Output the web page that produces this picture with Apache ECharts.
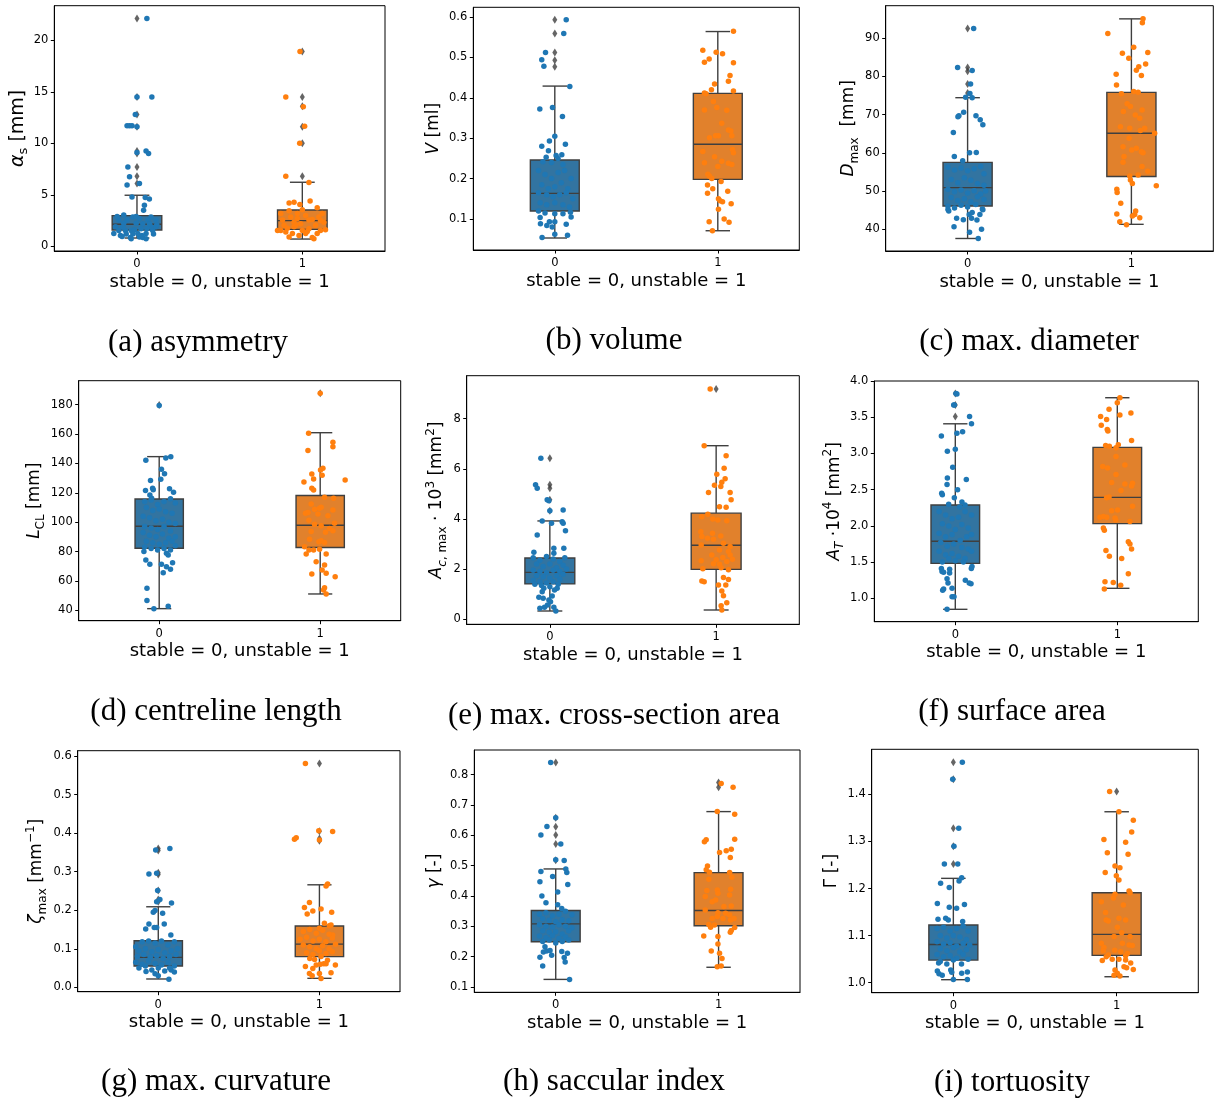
<!DOCTYPE html>
<html>
<head>
<meta charset="utf-8">
<title>Morphological parameters: stable vs unstable</title>
<script src="https://cdn.jsdelivr.net/npm/echarts@6/dist/echarts.min.js"></script>
<style>
  html, body { margin: 0; padding: 0; background: #fff; }
  #chart { width: 1218px; height: 1101px; }
</style>
</head>
<body>
<div id="chart"></div>
<script>
// ---- data: [jitter, value] for the strip points, box = [low whisker, Q1, median, Q3, high whisker]
const groups = ['0', '1'];

// (a) asymmetry
const asymmetryTicks = [0, 5, 10, 15, 20];
const asymmetryBoxes = [[0.81, 1.59, 2.14, 2.98, 4.96], [0.71, 1.65, 2.5, 3.53, 6.22]];
const asymmetryOutliers = [[22.1, 14.5, 12.8, 11.6, 9.25, 9.0, 7.7, 6.8, 6.1], [18.9, 14.5, 13.6, 11.6, 10.0, 6.8]];
const asymmetryStable = [[0.06,22.1],[0.09,14.5],[0.0,14.5],[-0.01,12.8],[-0.06,11.7],[-0.045,11.7],[-0.03,11.7],[0.0,11.6],[0.055,9.25],[0.07,9.0],[0.0,9.1],[-0.055,7.7],[-0.045,6.75],[-0.06,5.95],[0.015,6.1],[-0.03,4.8],[0.05,4.75],[0.075,4.6],[0.045,4.0],[0.04,3.5],[-0.14,1.25],[-0.08,3.05],[-0.1,1.05],[-0.04,0.85],[-0.035,1.55],[0.015,0.9],[0.035,0.85],[0.055,1.25],[0.085,1.9],[0.095,1.55],[-0.08,2.25],[-0.06,2.55],[-0.025,2.85],[-0.005,2.25],[0.015,2.7],[0.035,2.2],[0.065,2.55],[-0.13,1.9],[-0.11,1.55],[0.115,2.55],[0.085,2.85],[-0.07,1.55],[-0.015,1.6],[0.005,1.25],[0.025,1.7],[-0.035,0.75],[0.055,0.75],[-0.11,2.55],[0.075,2.2],[0.115,1.9],[-0.085,1.85],[-0.005,2.9],[-0.065,1.2],[-0.025,1.2],[0.12,2.1],[-0.12,2.9],[0.1,1.2],[-0.09,0.95],[0.03,1.05],[0.06,1.7]];
const asymmetryUnstable = [[-0.014,18.9],[-0.1,14.5],[0.006,13.55],[0.014,11.65],[-0.016,10.0],[-0.1,6.8],[0.04,6.2],[0.047,4.4],[-0.08,4.2],[-0.05,4.28],[-0.015,4.05],[-0.13,3.2],[-0.08,3.45],[0.0,3.55],[0.09,3.75],[0.12,3.2],[-0.12,2.55],[-0.07,2.85],[-0.03,2.7],[0.02,3.0],[0.06,2.6],[0.1,2.85],[0.13,2.35],[-0.13,1.55],[-0.1,1.4],[-0.05,1.9],[-0.01,2.2],[0.04,1.7],[0.08,2.05],[0.11,1.55],[-0.11,2.05],[-0.06,1.25],[-0.02,1.05],[0.02,1.25],[0.06,0.85],[0.07,0.75],[0.09,1.25],[-0.08,0.9],[0.0,1.55],[0.04,2.55],[-0.05,2.35],[-0.03,3.2],[-0.15,1.55],[0.14,1.6],[-0.09,1.75],[0.03,1.45],[0.11,2.5],[-0.04,2.05]];

// (b) volume
const volumeTicks = [0.1, 0.2, 0.3, 0.4, 0.5, 0.6];
const volumeBoxes = [[0.053, 0.12, 0.1635, 0.246, 0.429], [0.071, 0.198, 0.285, 0.411, 0.564]];
const volumeOutliers = [[0.593, 0.559, 0.512, 0.493, 0.477], []];
const volumeStable = [[0.07,0.593],[0.055,0.559],[-0.057,0.512],[-0.08,0.494],[-0.067,0.478],[0.092,0.428],[-0.092,0.372],[-0.014,0.376],[0.047,0.354],[0.0,0.305],[-0.033,0.293],[0.065,0.285],[-0.08,0.28],[-0.039,0.269],[0.043,0.259],[-0.053,0.253],[0.008,0.257],[-0.073,0.242],[-0.1,0.22],[-0.06,0.21],[-0.02,0.2],[0.02,0.215],[0.06,0.22],[0.1,0.2],[-0.08,0.185],[-0.04,0.175],[0.0,0.18],[0.04,0.19],[0.08,0.175],[-0.1,0.165],[-0.05,0.16],[-0.01,0.155],[0.03,0.16],[0.07,0.165],[0.11,0.15],[-0.09,0.14],[-0.05,0.135],[0.0,0.14],[0.05,0.135],[0.09,0.13],[-0.1,0.12],[-0.06,0.115],[0.0,0.113],[0.05,0.113],[0.096,0.117],[-0.09,0.104],[-0.088,0.088],[-0.049,0.084],[-0.016,0.08],[-0.033,0.093],[0.0,0.093],[0.07,0.087],[0.1,0.105],[-0.078,0.054],[0.0,0.062],[0.078,0.06],[0.05,0.235],[-0.02,0.24],[0.02,0.25]];
const volumeUnstable = [[0.096,0.565],[-0.092,0.518],[-0.01,0.513],[0.029,0.509],[-0.082,0.488],[-0.053,0.496],[0.096,0.487],[0.075,0.455],[0.065,0.441],[-0.02,0.434],[-0.039,0.42],[-0.082,0.412],[-0.072,0.41],[0.096,0.417],[-0.027,0.391],[-0.006,0.376],[-0.082,0.37],[0.055,0.369],[0.024,0.337],[0.065,0.32],[0.08,0.318],[0.086,0.306],[-0.051,0.301],[-0.014,0.306],[0.004,0.306],[0.09,0.272],[-0.092,0.267],[0.096,0.264],[-0.02,0.254],[-0.082,0.239],[0.024,0.243],[0.065,0.238],[0.086,0.235],[0.0,0.23],[-0.061,0.211],[-0.051,0.206],[-0.037,0.2],[0.02,0.193],[-0.063,0.184],[-0.031,0.175],[-0.063,0.164],[0.061,0.169],[0.004,0.15],[0.014,0.145],[0.029,0.143],[0.082,0.138],[0.004,0.124],[0.039,0.1],[-0.053,0.093],[0.069,0.092],[-0.033,0.071]];

// (c) max. diameter
const diameterTicks = [40, 50, 60, 70, 80, 90];
const diameterBoxes = [[37.6, 46.1, 50.9, 57.5, 74.4], [41.3, 53.8, 65.1, 75.8, 95.0]];
const diameterOutliers = [[92.5, 82.3, 81.3, 78.0, 75.6], []];
const diameterStable = [[0.037,92.5],[-0.061,82.3],[0.028,81.5],[0.018,78.0],[0.014,75.5],[-0.012,74.5],[0.028,74.4],[-0.053,69.7],[-0.059,69.4],[-0.024,70.6],[0.051,69.7],[0.077,68.6],[0.093,67.3],[-0.087,65.3],[0.012,60.0],[0.053,60.1],[-0.081,59.0],[-0.03,57.9],[-0.12,56.2],[-0.08,55.5],[-0.04,56.0],[0.0,55.3],[0.04,55.8],[0.08,56.4],[0.1,54.5],[-0.1,53.0],[-0.06,52.2],[-0.02,53.5],[0.02,52.8],[0.06,52.0],[0.1,51.5],[-0.12,50.5],[-0.08,49.8],[-0.04,50.3],[0.0,49.5],[0.04,50.1],[0.08,49.2],[0.11,50.0],[-0.1,48.3],[-0.06,47.5],[-0.02,48.0],[0.02,47.2],[0.06,48.5],[0.1,47.8],[-0.12,46.0],[-0.08,45.6],[-0.04,46.3],[0.0,45.8],[0.05,46.5],[0.09,45.3],[-0.12,45.2],[-0.115,44.8],[-0.067,42.9],[-0.083,40.7],[-0.026,42.5],[0.01,43.9],[0.028,44.4],[0.057,42.4],[0.075,43.9],[0.093,45.1],[0.085,40.0],[0.012,39.2],[0.065,37.6],[0.024,42.9]];
const diameterUnstable = [[0.071,95.0],[0.067,94.0],[-0.144,91.2],[-0.055,86.0],[0.1,86.2],[0.014,87.6],[-0.016,84.7],[0.087,83.2],[0.045,82.5],[0.03,81.6],[0.061,80.2],[-0.093,80.5],[-0.091,77.7],[-0.061,75.4],[0.014,76.0],[0.041,75.8],[-0.026,72.8],[-0.006,72.1],[-0.049,70.8],[0.065,71.2],[0.024,69.9],[0.051,69.0],[0.081,66.4],[-0.067,66.8],[-0.01,66.4],[0.055,65.8],[0.142,65.1],[-0.014,63.8],[-0.051,61.6],[0.002,60.7],[0.03,61.2],[0.061,60.3],[0.071,60.0],[-0.045,59.0],[-0.051,57.5],[0.1,55.2],[0.065,56.4],[-0.01,53.9],[0.041,54.2],[-0.006,52.9],[0.006,52.0],[0.152,51.4],[-0.089,50.5],[-0.087,49.6],[-0.065,46.8],[-0.089,44.0],[0.026,44.8],[0.02,43.9],[0.006,43.5],[0.051,43.0],[-0.071,42.0],[-0.03,41.2]];

// (d) centreline length
const lengthTicks = [40, 60, 80, 100, 120, 140, 160, 180];
const lengthBoxes = [[41.1, 82.2, 97.2, 115.8, 144.6], [51.1, 82.7, 97.9, 118.1, 160.9]];
const lengthOutliers = [[179.8], [187.7]];
const lengthStable = [[0.0,179.5],[-0.083,142.1],[0.041,143.7],[0.072,144.6],[0.014,136],[0.033,133],[-0.054,128.3],[0.01,129.2],[-0.041,123.1],[-0.037,122],[-0.085,121.5],[0.064,122.8],[0.089,120.3],[-0.058,118.5],[-0.047,116.2],[-0.09,114],[-0.05,115],[-0.01,112],[0.03,114],[0.07,116],[0.1,113],[-0.08,110],[-0.04,108],[0.0,109],[0.04,107],[0.08,106],[-0.1,104],[-0.06,103],[-0.02,101],[0.02,102],[0.06,100],[0.1,99],[-0.09,97],[-0.05,96],[-0.01,95],[0.03,97],[0.07,94],[-0.1,93],[-0.06,91],[-0.02,90],[0.02,92],[0.06,89],[0.1,90],[-0.08,87],[-0.04,86],[0.0,85],[0.04,86],[0.08,87],[-0.09,83],[-0.05,82],[-0.01,81],[0.03,82],[0.07,81],[0.1,84],[-0.095,80],[-0.083,74.3],[-0.058,71.3],[0.014,71.3],[0.045,78.8],[0.056,77.7],[0.083,72.4],[0.045,69.7],[0.07,67.9],[0.025,65.6],[-0.076,55],[-0.076,46.6],[-0.033,41.1],[0.056,42.7]];
const lengthUnstable = [[0.0,187.7],[-0.072,160.5],[-0.076,148.7],[0.079,154.4],[0.079,151.4],[-0.052,132.8],[-0.041,129.4],[-0.101,127.4],[0.012,132],[0.017,136.7],[0.002,135.5],[0.155,128.7],[-0.052,123],[-0.041,121.9],[0.027,117],[0.083,116.2],[-0.056,112.4],[-0.004,109.4],[-0.035,108.8],[0.006,110.1],[0.079,108.3],[-0.091,106],[-0.076,106.5],[0.048,104.4],[-0.014,105.6],[-0.07,101.3],[0.089,99.2],[-0.035,98.5],[0.006,97.6],[0.058,95.6],[0.079,94.2],[0.033,93.1],[-0.056,93.6],[-0.066,88.3],[-0.008,86.7],[0.006,87.4],[0.027,86.1],[-0.097,83.3],[-0.004,81.5],[-0.041,81.1],[-0.07,81.1],[-0.087,78.3],[0.037,78.3],[-0.025,73.1],[0.027,70.9],[0.012,67.5],[0.037,65.2],[-0.052,64.7],[0.093,62.9],[0.027,55.4],[0.021,53.8],[0.037,51.1]];

// (e) max. cross-section area
const crossTicks = [0, 2, 4, 6, 8];
const crossBoxes = [[0.33, 1.41, 1.87, 2.445, 3.92], [0.37, 1.99, 2.95, 4.23, 6.92]];
const crossOutliers = [[6.42, 5.36, 5.22, 4.76, 4.33], [9.18]];
const crossStable = [[-0.054,6.42],[-0.086,5.36],[-0.076,5.22],[-0.016,4.76],[-0.006,4.73],[0.0,4.33],[0.08,4.36],[-0.046,3.92],[0.01,3.83],[0.074,3.89],[0.08,3.83],[0.094,3.53],[-0.076,3.36],[0.024,2.83],[0.084,2.83],[0.024,2.63],[-0.096,2.67],[-0.1,2.45],[-0.06,2.35],[-0.02,2.5],[0.02,2.4],[0.06,2.3],[0.09,2.45],[-0.08,2.2],[-0.04,2.1],[0.0,2.2],[0.04,2.05],[0.08,2.15],[-0.1,1.95],[-0.06,1.9],[-0.02,1.85],[0.02,1.95],[0.06,1.9],[0.1,2.0],[-0.08,1.75],[-0.04,1.7],[0.0,1.65],[0.04,1.75],[0.08,1.8],[-0.1,1.55],[-0.06,1.5],[-0.02,1.45],[0.02,1.5],[0.06,1.6],[-0.09,1.4],[-0.05,1.35],[0.0,1.3],[0.05,1.4],[-0.036,1.24],[-0.046,1.1],[0.028,1.17],[0.044,1.24],[-0.066,0.88],[-0.04,0.84],[0.014,0.93],[-0.006,0.77],[0.004,0.7],[-0.06,0.44],[-0.032,0.48],[0.024,0.48],[0.036,0.33],[-0.014,0.57]];
const crossUnstable = [[-0.036,9.18],[-0.072,6.92],[0.06,6.52],[0.048,6.02],[0.004,5.78],[0.054,5.6],[0.034,5.46],[-0.01,5.34],[0.028,5.29],[-0.046,5.05],[0.084,5.05],[0.09,4.76],[0.02,4.49],[0.06,4.47],[-0.086,4.09],[-0.05,4.19],[-0.02,4.0],[0.01,3.96],[0.064,3.93],[-0.092,3.49],[-0.022,3.43],[0.028,3.32],[-0.086,3.3],[-0.052,3.23],[-0.016,3.19],[0.084,2.9],[-0.09,2.96],[0.044,3.03],[0.02,2.76],[0.074,2.7],[0.084,2.56],[0.098,2.39],[-0.026,2.56],[0.04,2.46],[0.0,2.37],[-0.09,2.33],[0.064,2.3],[0.02,2.19],[-0.016,2.21],[0.03,2.05],[0.074,1.97],[-0.08,2.01],[0.044,1.67],[-0.086,1.53],[-0.072,1.5],[0.074,1.59],[0.014,1.37],[0.058,1.37],[0.034,1.13],[0.044,0.94],[0.064,0.66],[0.03,0.54],[0.034,0.37]];

// (f) surface area
const surfaceTicks = [1.0, 1.5, 2.0, 2.5, 3.0, 3.5, 4.0];
const surfaceBoxes = [[0.848, 1.483, 1.787, 2.289, 3.41], [1.138, 2.031, 2.394, 3.085, 3.77]];
const surfaceOutliers = [[3.83, 3.67, 3.51], []];
const surfaceStable = [[0.004,3.83],[0.01,3.82],[-0.01,3.67],[-0.006,3.67],[0.088,3.51],[0.1,3.41],[0.045,3.3],[0.01,3.28],[-0.086,3.24],[0.0,3.06],[-0.049,3.03],[-0.016,2.81],[-0.049,2.66],[0.068,2.64],[-0.051,2.57],[0.014,2.5],[-0.084,2.45],[-0.08,2.43],[-0.006,2.39],[0.041,2.33],[-0.041,2.3],[0.027,2.26],[0.06,2.29],[-0.1,2.2],[-0.06,2.15],[-0.02,2.1],[0.02,2.12],[0.06,2.2],[0.1,2.15],[-0.08,2.03],[-0.04,2.0],[0.0,1.95],[0.04,2.02],[0.08,1.97],[-0.1,1.9],[-0.06,1.85],[-0.02,1.88],[0.03,1.8],[0.07,1.85],[0.1,1.88],[-0.09,1.77],[-0.05,1.72],[-0.01,1.75],[0.04,1.7],[0.08,1.68],[-0.1,1.65],[-0.06,1.6],[-0.02,1.62],[0.02,1.58],[0.06,1.55],[0.1,1.65],[-0.08,1.5],[-0.04,1.55],[0.0,1.52],[0.05,1.5],[-0.086,1.41],[-0.082,1.37],[-0.072,1.36],[-0.035,1.35],[-0.035,1.4],[0.099,1.41],[0.103,1.44],[0.062,1.25],[0.086,1.21],[0.097,1.2],[-0.051,1.27],[-0.045,1.21],[-0.072,1.13],[-0.078,1.11],[-0.02,1.14],[-0.02,1.02],[-0.008,1.02],[-0.051,0.85]];
const surfaceUnstable = [[0.016,3.77],[0.0,3.7],[-0.051,3.61],[-0.103,3.51],[0.016,3.53],[0.084,3.56],[-0.066,3.47],[-0.099,3.39],[-0.062,3.33],[-0.058,3.31],[0.088,3.18],[-0.072,3.11],[-0.049,3.1],[0.006,3.12],[-0.008,3.08],[-0.008,2.96],[0.047,2.84],[-0.09,2.82],[-0.06,2.8],[-0.008,2.71],[-0.035,2.6],[0.094,2.59],[0.088,2.55],[0.047,2.58],[0.023,2.49],[-0.066,2.39],[-0.051,2.4],[0.094,2.27],[0.002,2.22],[-0.035,2.21],[-0.107,2.12],[-0.086,2.13],[-0.066,2.12],[-0.014,2.11],[-0.01,2.08],[0.078,2.06],[-0.086,1.97],[-0.08,1.94],[0.068,1.78],[0.078,1.75],[0.088,1.68],[-0.07,1.66],[-0.049,1.58],[0.027,1.55],[0.068,1.34],[-0.076,1.23],[-0.025,1.22],[0.021,1.18],[-0.08,1.13]];

// (g) max. curvature
const curvatureTicks = [0.0, 0.1, 0.2, 0.3, 0.4, 0.5, 0.6];
const curvatureBoxes = [[0.0216, 0.0553, 0.0778, 0.121, 0.209], [0.0233, 0.0795, 0.112, 0.159, 0.266]];
const curvatureOutliers = [[0.36, 0.355, 0.297, 0.293, 0.251, 0.228, 0.222], [0.581, 0.405, 0.386, 0.38]];
const curvatureStable = [[-0.016,0.356],[0.072,0.36],[-0.058,0.294],[-0.01,0.296],[-0.004,0.251],[-0.01,0.222],[0.01,0.228],[0.082,0.219],[-0.031,0.195],[0.027,0.192],[-0.02,0.199],[-0.078,0.151],[-0.058,0.164],[0.037,0.164],[-0.025,0.155],[-0.01,0.155],[0.078,0.136],[-0.14,0.105],[-0.1,0.118],[-0.06,0.12],[-0.02,0.115],[0.02,0.12],[0.06,0.11],[0.1,0.118],[-0.12,0.095],[-0.08,0.1],[-0.04,0.092],[0.0,0.098],[0.04,0.09],[0.08,0.095],[0.12,0.1],[-0.13,0.08],[-0.09,0.085],[-0.05,0.078],[-0.01,0.082],[0.03,0.075],[0.07,0.08],[0.11,0.085],[-0.14,0.065],[-0.1,0.06],[-0.06,0.068],[-0.02,0.062],[0.02,0.058],[0.06,0.065],[0.1,0.055],[-0.12,0.05],[-0.08,0.055],[-0.04,0.045],[0.0,0.05],[0.04,0.042],[0.08,0.045],[0.1,0.04],[-0.076,0.041],[-0.02,0.035],[0.0,0.03],[0.07,0.05],[0.066,0.021]];
const curvatureUnstable = [[-0.087,0.581],[0.082,0.404],[-0.004,0.406],[0.0,0.382],[-0.155,0.384],[-0.144,0.388],[0.041,0.263],[0.051,0.268],[-0.062,0.22],[-0.093,0.207],[0.01,0.203],[-0.041,0.198],[-0.076,0.19],[0.076,0.195],[0.031,0.166],[0.062,0.16],[0.072,0.162],[0.082,0.136],[0.0,0.153],[-0.1,0.145],[-0.06,0.15],[-0.02,0.14],[0.02,0.148],[0.06,0.138],[-0.12,0.125],[-0.08,0.13],[-0.04,0.12],[0.0,0.125],[0.04,0.118],[0.08,0.128],[-0.1,0.11],[-0.06,0.105],[-0.02,0.1],[0.02,0.108],[0.06,0.1],[0.1,0.112],[-0.08,0.09],[-0.04,0.085],[0.0,0.095],[0.04,0.088],[0.08,0.092],[-0.06,0.075],[-0.03,0.072],[0.01,0.08],[0.05,0.07],[-0.087,0.054],[-0.041,0.049],[-0.02,0.058],[0.006,0.06],[0.027,0.061],[0.041,0.061],[-0.062,0.036],[-0.045,0.03],[0.01,0.023],[0.072,0.038],[0.099,0.058],[0.0,0.036]];

// (h) saccular index
const saccularTicks = [0.1, 0.2, 0.3, 0.4, 0.5, 0.6, 0.7, 0.8];
const saccularBoxes = [[0.125, 0.249, 0.308, 0.352, 0.489], [0.165, 0.302, 0.352, 0.477, 0.678]];
const saccularOutliers = [[0.84, 0.658, 0.628, 0.601, 0.571, 0.518], [0.774, 0.758]];
const saccularStable = [[-0.031,0.84],[0.0,0.658],[-0.054,0.629],[-0.091,0.601],[0.031,0.571],[0.0,0.519],[0.052,0.517],[-0.091,0.481],[0.062,0.489],[0.068,0.477],[-0.019,0.464],[-0.097,0.447],[0.074,0.438],[0.012,0.413],[-0.085,0.4],[-0.06,0.378],[0.012,0.371],[0.037,0.359],[-0.1,0.34],[-0.06,0.345],[-0.02,0.335],[0.02,0.34],[0.06,0.35],[0.1,0.338],[-0.08,0.325],[-0.04,0.32],[0.0,0.315],[0.04,0.322],[0.08,0.318],[-0.1,0.305],[-0.06,0.3],[-0.02,0.298],[0.02,0.305],[0.06,0.3],[0.1,0.295],[-0.08,0.285],[-0.04,0.28],[0.0,0.282],[0.04,0.275],[0.08,0.285],[-0.1,0.268],[-0.06,0.262],[-0.02,0.27],[0.02,0.26],[0.06,0.265],[-0.08,0.25],[-0.04,0.255],[0.0,0.245],[0.04,0.25],[0.08,0.255],[-0.066,0.233],[-0.076,0.215],[-0.056,0.219],[-0.035,0.22],[-0.025,0.205],[-0.097,0.198],[0.037,0.217],[0.072,0.211],[0.052,0.197],[0.058,0.182],[-0.08,0.169],[0.085,0.125]];
const saccularUnstable = [[0.016,0.771],[0.089,0.758],[-0.008,0.678],[0.099,0.669],[-0.087,0.579],[-0.076,0.585],[0.099,0.587],[0.078,0.554],[0.047,0.549],[0.006,0.543],[0.072,0.527],[-0.068,0.499],[-0.076,0.486],[-0.056,0.478],[0.068,0.477],[0.082,0.462],[-0.06,0.455],[0.074,0.422],[-0.008,0.42],[-0.072,0.418],[-0.004,0.409],[-0.082,0.398],[0.068,0.403],[-0.039,0.381],[-0.018,0.387],[0.078,0.367],[0.033,0.365],[-0.082,0.354],[-0.004,0.345],[0.068,0.337],[0.043,0.343],[-0.039,0.326],[-0.008,0.332],[0.027,0.326],[0.074,0.321],[0.095,0.326],[-0.06,0.306],[-0.049,0.297],[-0.025,0.304],[0.078,0.286],[0.072,0.28],[0.099,0.296],[-0.091,0.268],[-0.004,0.266],[-0.004,0.242],[-0.045,0.219],[0.006,0.211],[0.021,0.194],[-0.008,0.167],[0.016,0.169]];

// (i) tortuosity
const tortuosityTicks = [1.0, 1.1, 1.2, 1.3, 1.4];
const tortuosityBoxes = [[1.0064, 1.048, 1.081, 1.1225, 1.2216], [1.0127, 1.058, 1.1027, 1.191, 1.363]];
const tortuosityOutliers = [[1.468, 1.432, 1.328, 1.29, 1.252], [1.406]];
const tortuosityStable = [[0.055,1.468],[-0.004,1.432],[0.033,1.328],[0.004,1.29],[-0.055,1.252],[0.027,1.252],[0.051,1.223],[0.035,1.216],[-0.078,1.211],[-0.025,1.202],[-0.098,1.168],[0.068,1.166],[-0.025,1.16],[0.02,1.158],[0.057,1.13],[-0.047,1.137],[-0.031,1.133],[-0.094,1.135],[-0.1,1.115],[-0.06,1.118],[-0.02,1.11],[0.02,1.115],[0.06,1.12],[0.09,1.11],[-0.08,1.1],[-0.04,1.095],[0.0,1.1],[0.04,1.097],[0.08,1.092],[-0.1,1.087],[-0.06,1.082],[-0.02,1.085],[0.02,1.078],[0.06,1.083],[0.1,1.08],[-0.08,1.072],[-0.04,1.068],[0.0,1.075],[0.04,1.065],[0.08,1.07],[-0.1,1.06],[-0.06,1.055],[-0.02,1.058],[0.02,1.052],[0.06,1.06],[0.09,1.05],[-0.08,1.045],[-0.04,1.04],[0.0,1.048],[0.05,1.04],[-0.09,1.042],[-0.098,1.025],[-0.088,1.019],[-0.068,1.016],[-0.016,1.027],[-0.01,1.022],[0.051,1.02],[0.086,1.023],[0.0,1.007],[0.086,1.007]];
const tortuosityUnstable = [[-0.043,1.406],[0.014,1.363],[0.102,1.345],[0.092,1.32],[-0.078,1.304],[0.055,1.298],[-0.057,1.276],[0.07,1.273],[-0.01,1.248],[0.02,1.244],[-0.07,1.234],[-0.002,1.227],[0.014,1.218],[0.076,1.195],[0.082,1.191],[-0.01,1.188],[-0.094,1.172],[-0.02,1.18],[0.041,1.165],[-0.068,1.149],[-0.064,1.133],[-0.051,1.131],[0.014,1.137],[0.055,1.133],[0.004,1.118],[0.031,1.106],[0.082,1.098],[-0.016,1.098],[-0.094,1.084],[0.035,1.084],[0.076,1.08],[0.096,1.079],[-0.078,1.075],[-0.082,1.068],[-0.012,1.069],[0.025,1.066],[0.066,1.062],[-0.051,1.059],[-0.064,1.055],[0.055,1.057],[-0.088,1.047],[-0.027,1.05],[0.014,1.05],[0.055,1.048],[0.086,1.042],[0.045,1.034],[0.061,1.032],[-0.01,1.027],[0.102,1.028],[0.004,1.02],[-0.016,1.016],[0.02,1.014]];

// ---- styles
const FONT = 'DejaVu Sans';
const EDGE = '#3f3f3f';
const BOX_FILL = ['#3274a1', '#e1812c'];
const POINT_COLOR = ['#1f77b4', '#ff7f0e'];

const panels = [
  { stable: asymmetryStable, unstable: asymmetryUnstable, boxes: asymmetryBoxes, outliers: asymmetryOutliers, ticks: asymmetryTicks, digits: 0,
    rect: [54.3, 5.7, 330.7, 245.3], yMin: -0.45, yMax: 23.35, yName: '{i|α}{sub|s} [mm]', gap: 22, nameSize: 19,
    caption: '(a) asymmetry', cap: [198, 343] },
  { stable: volumeStable, unstable: volumeUnstable, boxes: volumeBoxes, outliers: volumeOutliers, ticks: volumeTicks, digits: 1,
    rect: [473.3, 7.3, 326, 242.7], yMin: 0.0233, yMax: 0.624, yName: '{i|V} [ml]', gap: 28, nameSize: 17,
    caption: '(b) volume', cap: [614, 341] },
  { stable: diameterStable, unstable: diameterUnstable, boxes: diameterBoxes, outliers: diameterOutliers, ticks: diameterTicks, digits: 0,
    rect: [885.7, 5.7, 327.6, 245.3], yMin: 34.33, yMax: 98.44, yName: '{i|D}{sub|max}  [mm]', gap: 25, nameSize: 17,
    caption: '(c) max. diameter', cap: [1029, 342] },
  { stable: lengthStable, unstable: lengthUnstable, boxes: lengthBoxes, outliers: lengthOutliers, ticks: lengthTicks, digits: 0,
    rect: [78.7, 380.7, 322, 240], yMin: 32.9, yMax: 196.3, yName: '{i|L}{sub|CL} [mm]', gap: 31, nameSize: 17,
    caption: '(d) centreline length', cap: [216, 712] },
  { stable: crossStable, unstable: crossUnstable, boxes: crossBoxes, outliers: crossOutliers, ticks: crossTicks, digits: 0,
    rect: [466.7, 375.7, 332.6, 248.6], yMin: -0.2, yMax: 9.71, yName: '{i|A}{subi|c}{sub|, max} · 10{sup|3} [mm{sup|2}]', gap: 18, nameSize: 17,
    caption: '(e) max. cross-section area', cap: [614, 716] },
  { stable: surfaceStable, unstable: surfaceUnstable, boxes: surfaceBoxes, outliers: surfaceOutliers, ticks: surfaceTicks, digits: 1,
    rect: [874.3, 381, 324, 240.7], yMin: 0.677, yMax: 4.001, yName: '{i|A}{subi|T} ·10{sup|4} [mm{sup|2}]', gap: 26, nameSize: 17,
    caption: '(f) surface area', cap: [1012, 712] },
  { stable: curvatureStable, unstable: curvatureUnstable, boxes: curvatureBoxes, outliers: curvatureOutliers, ticks: curvatureTicks, digits: 1,
    rect: [77.7, 750.7, 322.3, 241], yMin: -0.0114, yMax: 0.614, yName: '{i|ζ}{sub|max} [mm{sup|−1}]', gap: 29, nameSize: 17,
    caption: '(g) max. curvature', cap: [216, 1082] },
  { stable: saccularStable, unstable: saccularUnstable, boxes: saccularBoxes, outliers: saccularOutliers, ticks: saccularTicks, digits: 1,
    rect: [474.3, 750, 325.7, 242.3], yMin: 0.0825, yMax: 0.881, yName: '{i|γ} [-]', gap: 26, nameSize: 17,
    caption: '(h) saccular index', cap: [614, 1082] },
  { stable: tortuosityStable, unstable: tortuosityUnstable, boxes: tortuosityBoxes, outliers: tortuosityOutliers, ticks: tortuosityTicks, digits: 1,
    rect: [871.7, 749.3, 326.6, 243.4], yMin: 0.9788, yMax: 1.4956, yName: 'Γ [-]', gap: 27, nameSize: 17,
    caption: '(i) tortuosity', cap: [1012, 1083] }
];

function richFor(size) {
  const small = Math.round(size * 0.7);
  return {
    i: { fontFamily: FONT, fontStyle: 'italic', fontSize: size, lineHeight: 24, color: '#000' },
    sub: { fontFamily: FONT, fontSize: small, lineHeight: 12, verticalAlign: 'bottom', color: '#000' },
    subi: { fontFamily: FONT, fontStyle: 'italic', fontSize: small, lineHeight: 12, verticalAlign: 'bottom', color: '#000' },
    sup: { fontFamily: FONT, fontSize: small, lineHeight: 12, verticalAlign: 'top', color: '#000' }
  };
}

/* box + whiskers drawn from the five numbers, caps half as wide as the box */
function renderBox(params, api) {
  const x = api.value(0);
  const lo = api.coord([x, api.value(1)]);
  const q1 = api.coord([x, api.value(2)]);
  const med = api.coord([x, api.value(3)]);
  const q3 = api.coord([x, api.value(4)]);
  const hi = api.coord([x, api.value(5)]);
  const hw = api.size([0.15, 0])[0];
  const cw = hw / 2;
  const cx = lo[0];
  const line = { stroke: EDGE, lineWidth: 1.4 };
  return {
    type: 'group',
    children: [
      { type: 'line', shape: { x1: cx, y1: lo[1], x2: cx, y2: q1[1] }, style: line },
      { type: 'line', shape: { x1: cx, y1: q3[1], x2: cx, y2: hi[1] }, style: line },
      { type: 'line', shape: { x1: cx - cw, y1: lo[1], x2: cx + cw, y2: lo[1] }, style: line },
      { type: 'line', shape: { x1: cx - cw, y1: hi[1], x2: cx + cw, y2: hi[1] }, style: line },
      { type: 'rect', shape: { x: cx - hw, y: q3[1], width: 2 * hw, height: q1[1] - q3[1] },
        style: { fill: BOX_FILL[params.dataIndex], stroke: EDGE, lineWidth: 1.4 } },
      { type: 'line', shape: { x1: cx - hw, y1: med[1], x2: cx + hw, y2: med[1] }, style: line }
    ]
  };
}

const grid = [], xAxis = [], yAxis = [], series = [], graphic = [];

panels.forEach((p, k) => {
  grid.push({
    left: p.rect[0], top: p.rect[1], width: p.rect[2], height: p.rect[3],
    show: true, borderColor: '#000', borderWidth: 1, backgroundColor: 'transparent'
  });
  xAxis.push({
    type: 'category', gridIndex: k, data: groups, boundaryGap: true, position: 'bottom',
    axisLine: { show: true, onZero: false, lineStyle: { color: '#000', width: 1 } },
    axisTick: { show: true, alignWithLabel: true, length: 3.5, lineStyle: { color: '#000' } },
    axisLabel: { fontFamily: FONT, fontSize: 11.5, color: '#000', margin: 7 },
    splitLine: { show: false },
    name: 'stable = 0, unstable = 1', nameLocation: 'middle', nameGap: 22,
    nameTextStyle: { fontFamily: FONT, fontSize: 18, color: '#000' }
  });
  xAxis.push({ type: 'value', gridIndex: k, min: -0.5, max: 1.5, show: false,
               axisLine: { onZero: false }, splitLine: { show: false } });
  yAxis.push({
    type: 'value', gridIndex: k, min: p.yMin, max: p.yMax, position: 'left',
    axisLine: { show: true, onZero: false, lineStyle: { color: '#000', width: 1 } },
    axisTick: { show: true, length: 3.5, lineStyle: { color: '#000' }, customValues: p.ticks },
    axisLabel: { fontFamily: FONT, fontSize: 11.5, color: '#000', margin: 6, customValues: p.ticks,
                 formatter: v => v.toFixed(p.digits) },
    splitLine: { show: false },
    name: p.yName, nameLocation: 'middle', nameRotate: 90, nameGap: p.gap,
    nameTextStyle: { fontFamily: FONT, fontSize: p.nameSize, lineHeight: 24, color: '#000', rich: richFor(p.nameSize) }
  });

  const xi = 2 * k + 1;
  series.push({
    type: 'custom', xAxisIndex: xi, yAxisIndex: k, renderItem: renderBox, silent: true, z: 2,
    encode: { x: 0, y: [1, 2, 3, 4, 5] },
    data: p.boxes.map((b, g) => [g].concat(b))
  });
  const outData = [];
  p.outliers.forEach((arr, g) => arr.forEach(v => outData.push([g, v])));
  series.push({
    type: 'scatter', xAxisIndex: xi, yAxisIndex: k, symbol: 'diamond', symbolSize: [5, 8], z: 3,
    itemStyle: { color: EDGE }, data: outData
  });
  [p.stable, p.unstable].forEach((pts, g) => {
    series.push({
      type: 'scatter', xAxisIndex: xi, yAxisIndex: k, symbol: 'circle', symbolSize: 5.5, z: 4,
      itemStyle: { color: POINT_COLOR[g], opacity: 1 },
      data: pts.map(d => [g + d[0], d[1]])
    });
  });

  graphic.push({
    type: 'text', x: p.cap[0], y: p.cap[1],
    style: { text: p.caption, fontFamily: 'Liberation Serif', fontSize: 31, fill: '#000',
             align: 'center', verticalAlign: 'middle', textAlign: 'center', textVerticalAlign: 'middle' }
  });
});

const chart = echarts.init(document.getElementById('chart'), null, { renderer: 'canvas' });
chart.setOption({
  animation: false,
  backgroundColor: '#fff',
  grid: grid,
  xAxis: xAxis,
  yAxis: yAxis,
  series: series,
  graphic: graphic
});
</script>
</body>
</html>
